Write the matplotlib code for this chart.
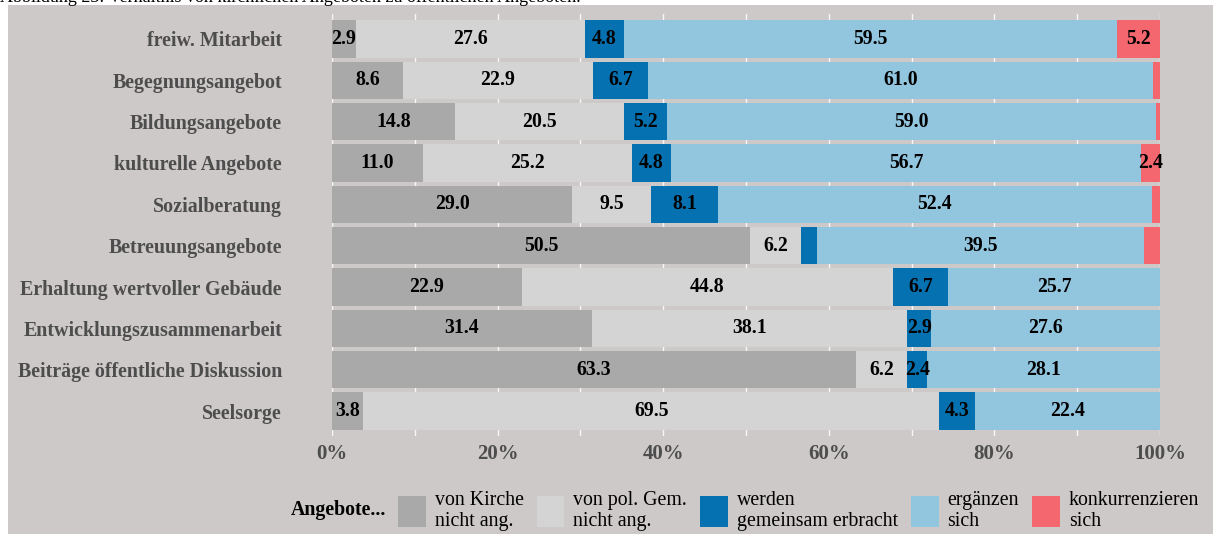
import matplotlib
matplotlib.use("Agg")
import matplotlib.pyplot as plt
from matplotlib.patches import Rectangle, Patch
import numpy as np

categories = ["freiw. Mitarbeit", "Begegnungsangebot", "Bildungsangebote",
              "kulturelle Angebote", "Sozialberatung", "Betreuungsangebote",
              "Erhaltung wertvoller Gebäude", "Entwicklungszusammenarbeit",
              "Beiträge öffentliche Diskussion", "Seelsorge"]
kirche_nicht = [2.9, 8.6, 14.8, 11.0, 29.0, 50.5, 22.9, 31.4, 63.3, 3.8]
gem_nicht = [27.6, 22.9, 20.5, 25.2, 9.5, 6.2, 44.8, 38.1, 6.2, 69.5]
gemeinsam = [4.8, 6.7, 5.2, 4.8, 8.1, 1.9, 6.7, 2.9, 2.4, 4.3]
ergaenzen = [59.5, 61.0, 59.0, 56.7, 52.4, 39.5, 25.7, 27.6, 28.1, 22.4]
konkurrenz = [5.2, 0.8, 0.5, 2.4, 1.0, 1.9, 0.0, 0.0, 0.0, 0.0]
series = [kirche_nicht, gem_nicht, gemeinsam, ergaenzen, konkurrenz]
legend_labels = ["von Kirche\nnicht ang.", "von pol. Gem.\nnicht ang.",
                 "werden\ngemeinsam erbracht", "ergänzen\nsich",
                 "konkurrenzieren\nsich"]
colors = ["#A9A9A9", "#D4D4D4", "#0571B0", "#92C5DE", "#F5676F"]
xticks = [0, 20, 40, 60, 80, 100]
xticklabels = ["0%", "20%", "40%", "60%", "80%", "100%"]

BG = "#CDC9C8"
W, H = 1213, 534
fig = plt.figure(figsize=(W / 100, H / 100), dpi=100)
fig.patch.set_facecolor("white")
fig.add_artist(Rectangle((8 / W, 0), 1 - 8 / W, 1 - 5 / H, transform=fig.transFigure,
                         facecolor=BG, edgecolor="none", zorder=0))
fig.text(0, 1 - 1.5 / H, "Abbildung 23: Verhältnis von kirchlichen Angeboten zu öffentlichen Angeboten.",
         family="Liberation Serif", fontsize=13, va="baseline", ha="left", color="black")

ax = fig.add_axes([332 / W, 1 - 435.8 / H, 828 / W, (435.8 - 14.2) / H])
ax.set_facecolor("none")
y = np.arange(len(categories))
left = np.zeros(len(categories))
handles = []
for vals, col, lab in zip(series, colors, legend_labels):
    vals = np.array(vals)
    ax.barh(y, vals, left=left, height=0.9, color=col, edgecolor="none", zorder=2)
    for yi, (l, v) in enumerate(zip(left, vals)):
        if v >= 2:
            ax.text(l + v / 2, yi, f"{v:.1f}", ha="center", va="center",
                    family="Liberation Serif", fontweight="bold", fontsize=14.2,
                    color="black", zorder=3)
    handles.append(Patch(facecolor=col, edgecolor="none", label=lab))
    left = left + vals

ax.set_xlim(0, 100)
ax.set_ylim(len(categories) - 0.4, -0.6)
ax.set_xticks(xticks)
ax.set_xticks(range(10, 100, 20), minor=True)
ax.set_xticklabels(xticklabels, family="Liberation Serif", fontweight="bold",
                   fontsize=15, color="#4D4D4D")
ax.set_yticks(y)
ax.set_yticklabels(categories, family="Liberation Serif", fontweight="bold",
                   fontsize=14.4, color="#4D4D4D")
ax.tick_params(axis="y", length=0, pad=36)
ax.tick_params(axis="x", which="both", length=0, pad=6)
ax.grid(axis="x", which="both", color="white", linewidth=1.0, alpha=0.85, zorder=1)
ax.set_axisbelow(True)
for s in ax.spines.values():
    s.set_visible(False)

fig.text(291 / W, 1 - 510 / H, "Angebote...", family="Liberation Serif",
         fontweight="bold", fontsize=14.3, va="center", ha="left", color="black")
fig.legend(handles=handles, loc="center left", bbox_to_anchor=(398 / W, 1 - 511 / H),
           ncol=5, frameon=False, prop={"family": "Liberation Serif", "size": 14.3},
           handlelength=1.4, handleheight=2.0, handletextpad=0.45,
           columnspacing=0.65, borderpad=0, borderaxespad=0, labelspacing=0)

fig.savefig("out.png", dpi=100, facecolor=fig.get_facecolor())
